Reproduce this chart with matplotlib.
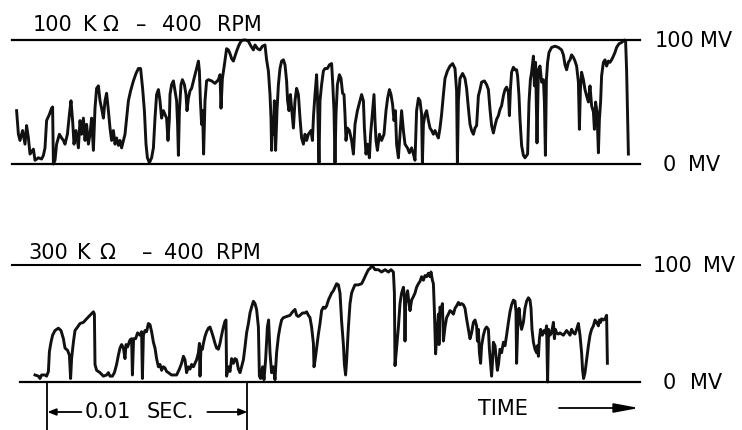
import matplotlib
matplotlib.use("Agg")
import matplotlib.pyplot as plt
from matplotlib import transforms
from matplotlib.patches import FancyArrowPatch

# ---------------- data (time in ms, signal in mV) ----------------
top_time = [
    0.08, 0.17, 0.25, 0.38, 0.5, 0.58, 0.67, 0.75, 0.92, 1.0, 1.17, 1.33, 1.42, 1.5, 1.58,
    1.72, 1.83, 1.88, 1.92, 2.0, 2.08, 2.22, 2.33, 2.42, 2.5, 2.62, 2.72, 2.8, 2.88, 2.95,
    3.05, 3.17, 3.25, 3.33, 3.42, 3.5, 3.58, 3.67, 3.75, 3.83, 3.92, 4.0, 4.08, 4.17, 4.25,
    4.33, 4.42, 4.5, 4.58, 4.67, 4.75, 4.83, 4.92, 5.0, 5.08, 5.17, 5.25, 5.33, 5.5, 5.58,
    5.67, 5.78, 5.92, 6.05, 6.17, 6.28, 6.38, 6.47, 6.55, 6.62, 6.72, 6.83, 6.92, 7.0, 7.08,
    7.17, 7.25, 7.33, 7.42, 7.58, 7.65, 7.72,
    7.75, 7.83, 7.92, 8.0, 8.08, 8.13, 8.17, 8.22, 8.3, 8.37, 8.47, 8.55, 8.6, 8.67, 8.75,
    8.83, 8.92, 9.0, 9.08, 9.17, 9.22, 9.27, 9.33, 9.38, 9.43, 9.5, 9.58, 9.67, 9.83, 10.0,
    10.17, 10.25, 10.3, 10.37, 10.47, 10.58, 10.67, 10.75, 10.83, 10.92, 11.0, 11.08, 11.2, 11.3, 11.42,
    11.53, 11.67, 11.8, 11.92, 12.0, 12.13, 12.25, 12.37, 12.5, 12.58, 12.67, 12.75, 12.8, 12.83, 12.87,
    12.92, 12.97, 13.03, 13.1, 13.17, 13.25, 13.33, 13.42, 13.5, 13.58, 13.63, 13.7, 13.77, 13.83, 13.92,
    14.0, 14.08, 14.17, 14.25, 14.33, 14.42, 14.5, 14.58, 14.67, 14.8, 14.87, 14.93, 15.0, 15.08, 15.13,
    15.2,
    15.25, 15.33, 15.42, 15.5, 15.62, 15.72, 15.83, 15.88, 15.95, 16.0, 16.05, 16.12, 16.22, 16.3, 16.38,
    16.45, 16.5, 16.55, 16.62, 16.72, 16.83, 16.92, 17.0, 17.12, 17.25, 17.33, 17.42, 17.47, 17.55, 17.62,
    17.72, 17.78, 17.88, 17.95, 18.0, 18.05, 18.12, 18.22, 18.33, 18.45, 18.55, 18.63, 18.72, 18.8, 18.88,
    18.95, 19.02, 19.08, 19.17, 19.25, 19.33, 19.42, 19.5, 19.62, 19.72, 19.83, 19.92, 20.0, 20.08, 20.17,
    20.25, 20.33, 20.37, 20.42, 20.5, 20.58, 20.67, 20.75, 20.83, 20.92, 21.0, 21.08, 21.17, 21.25, 21.33,
    21.42, 21.5, 21.62, 21.75, 21.88, 22.0, 22.08, 22.12, 22.17, 22.25, 22.38, 22.5, 22.58, 22.67, 22.75,
    22.83, 22.92, 23.0,
    23.08, 23.17, 23.25, 23.33, 23.47, 23.58, 23.67, 23.75, 23.83, 23.92, 24.0, 24.08, 24.17, 24.25, 24.33,
    24.42, 24.5, 24.58, 24.67, 24.72, 24.77, 24.83, 24.92, 25.0, 25.08, 25.13, 25.2, 25.25, 25.33, 25.42,
    25.5, 25.63, 25.7, 25.77, 25.83, 25.92, 25.97, 26.03, 26.1, 26.17, 26.25, 26.33, 26.42, 26.47, 26.52,
    26.57, 26.63, 26.7, 26.83, 27.0, 27.17, 27.33, 27.42, 27.5, 27.58, 27.67, 27.75, 27.83, 27.92, 28.0,
    28.08, 28.17, 28.22, 28.27, 28.33, 28.42, 28.5, 28.58, 28.67, 28.75, 28.83, 28.92, 28.97, 29.03, 29.1,
    29.17, 29.22, 29.28, 29.33, 29.42, 29.5, 29.58, 29.67, 29.75, 29.83, 29.92, 30.0, 30.08, 30.2, 30.33,
    30.47, 30.53, 30.58, 30.63, 30.67,
]
top_mv = [
    43, 24, 19, 27, 16, 31, 21, 8, 12, 3, 5, 4, 7, 13, 35,
    40, 45, 46, 0, 3, 16, 24, 21, 19, 16, 24, 40, 51, 35, 16,
    27, 13, 35, 24, 37, 19, 32, 16, 24, 37, 11, 45, 61, 63, 51,
    45, 37, 51, 57, 43, 29, 19, 27, 16, 21, 15, 19, 13, 24, 37,
    51, 59, 67, 73, 77, 77, 61, 43, 16, 5, 1, 5, 13, 37, 56,
    60, 51, 37, 43, 37, 19, 37,
    56, 64, 67, 59, 51, 32, 7, 43, 64, 68, 64, 56, 43, 53, 59,
    61, 67, 72, 77, 83, 75, 51, 32, 43, 8, 51, 67, 68, 67, 65,
    68, 72, 45, 69, 80, 93, 92, 89, 85, 83, 87, 91, 96, 99, 100,
    100, 99, 95, 92, 96, 93, 92, 95, 96, 84, 75, 56, 37, 11, 37,
    24, 51, 11, 43, 64, 77, 83, 84, 80, 67, 51, 43, 56, 45, 29,
    51, 61, 56, 37, 21, 16, 24, 19, 24, 27, 19, 40, 56, 72, 51,
    1,
    51, 64, 75, 77, 77, 80, 81, 67, 43, 1, 40, 64, 72, 69, 57,
    56, 40, 19, 29, 27, 19, 8, 32, 43, 51, 56, 51, 29, 8, 16,
    5, 24, 43, 56, 35, 19, 11, 24, 19, 24, 43, 53, 60, 56, 48,
    35, 43, 16, 5, 24, 43, 27, 16, 13, 9, 13, 8, 3, 43, 53,
    51, 40, 1, 32, 40, 43, 35, 29, 27, 24, 27, 24, 21, 29, 40,
    56, 69, 75, 79, 81, 77, 59, 1, 51, 69, 73, 69, 61, 45, 32,
    27, 24, 29,
    31, 55, 60, 66, 67, 64, 60, 44, 31, 25, 31, 36, 39, 44, 47,
    55, 60, 62, 58, 39, 60, 74, 78, 76, 76, 71, 55, 36, 15, 7,
    5, 8, 50, 68, 74, 87, 63, 82, 17, 76, 79, 66, 68, 50, 7,
    68, 82, 90, 94, 95, 94, 92, 88, 80, 76, 82, 84, 88, 86, 83,
    79, 66, 28, 60, 74, 68, 60, 55, 50, 63, 47, 42, 28, 50, 42,
    9, 36, 50, 71, 82, 84, 79, 83, 82, 84, 87, 90, 94, 97, 98,
    100, 99, 76, 36, 8,
]

bottom_time = [
    1.0, 1.17, 1.25, 1.33, 1.5, 1.58, 1.67, 1.72, 1.8, 1.88, 2.0, 2.17, 2.3, 2.42, 2.5,
    2.63, 2.72, 2.78, 2.83, 2.92, 3.0, 3.13, 3.25, 3.42, 3.58, 3.75, 3.92, 3.97, 4.0, 4.08,
    4.25, 4.42, 4.58, 4.67, 4.75, 4.87, 4.97, 5.08, 5.17, 5.25, 5.33, 5.42, 5.5, 5.55, 5.63,
    5.75, 5.83, 5.87, 5.93, 6.03, 6.13, 6.25, 6.33, 6.37, 6.42, 6.5, 6.58, 6.67, 6.75, 6.83,
    6.92, 7.0, 7.08, 7.17, 7.25, 7.33, 7.42, 7.5, 7.58, 7.67, 7.83,
    8.08, 8.22, 8.33, 8.42, 8.5, 8.58, 8.67, 8.75, 8.83, 8.92, 9.0, 9.08, 9.17, 9.22, 9.25,
    9.3, 9.37, 9.42, 9.5, 9.58, 9.67, 9.75, 9.83, 9.92, 10.0, 10.08, 10.17, 10.25, 10.33, 10.42,
    10.5, 10.55, 10.58, 10.67, 10.75, 10.83, 10.92, 11.0, 11.08, 11.17, 11.25, 11.33, 11.42, 11.5, 11.58,
    11.67, 11.75, 11.83, 11.92, 12.0, 12.08, 12.17, 12.22, 12.28, 12.38, 12.45, 12.53, 12.62, 12.68, 12.75,
    12.83, 12.92, 13.0, 13.08, 13.17, 13.25, 13.33, 13.42, 13.58, 13.75, 13.88, 14.0, 14.08, 14.17, 14.25,
    14.38, 14.5, 14.58, 14.67, 14.75, 14.83, 14.92, 14.95,
    15.0, 15.08, 15.17, 15.25, 15.33, 15.42, 15.5, 15.58, 15.67, 15.75, 15.83, 15.92, 16.0, 16.08, 16.17,
    16.25, 16.33, 16.42, 16.47, 16.53, 16.58, 16.67, 16.75, 16.83, 16.92, 17.0, 17.17, 17.33, 17.42, 17.5,
    17.58, 17.67, 17.75, 17.83, 17.92, 18.0, 18.17, 18.33, 18.5, 18.67, 18.8, 18.92, 18.97, 19.0, 19.08,
    19.17, 19.25, 19.33, 19.42, 19.47, 19.5, 19.53, 19.63, 19.7, 19.75, 19.83, 19.92, 20.0, 20.08, 20.17,
    20.25, 20.33, 20.42, 20.5, 20.58, 20.67, 20.75, 20.8, 20.87, 20.92, 20.97, 21.03, 21.08, 21.17, 21.2,
    21.25, 21.3, 21.37, 21.42, 21.5, 21.58, 21.67, 21.75, 21.83, 21.92, 22.0, 22.08, 22.17,
    22.25, 22.33, 22.42, 22.5, 22.58, 22.67, 22.75, 22.83, 22.92, 23.0, 23.08, 23.12, 23.17, 23.22, 23.28,
    23.33, 23.42, 23.5, 23.58, 23.67, 23.72, 23.78, 23.83, 23.88, 23.92, 24.0, 24.05, 24.12, 24.18, 24.25,
    24.33, 24.42, 24.5, 24.58, 24.67, 24.75, 24.83, 24.92, 25.0, 25.05, 25.08, 25.13, 25.2, 25.25, 25.33,
    25.42, 25.5, 25.58, 25.67, 25.75, 25.8, 25.85, 25.92, 26.0, 26.08, 26.12, 26.17, 26.22, 26.28, 26.37,
    26.45, 26.52, 26.58, 26.63, 26.68, 26.75, 26.83, 26.92, 26.97, 27.02, 27.08, 27.17, 27.25, 27.33, 27.42,
    27.5, 27.58, 27.67, 27.75, 27.83, 27.92, 28.0, 28.08, 28.17, 28.25, 28.33, 28.38, 28.43, 28.5, 28.58,
    28.67, 28.75, 28.83, 28.92, 29.0, 29.08, 29.17, 29.22, 29.28, 29.33, 29.42, 29.5, 29.58, 29.62,
]
bottom_mv = [
    6, 5, 3, 6, 6, 5, 9, 26, 34, 40, 44, 46, 44, 37, 29,
    27, 23, 3, 20, 34, 44, 47, 50, 51, 54, 57, 60, 58, 15, 10,
    8, 5, 6, 8, 5, 5, 8, 15, 23, 29, 32, 29, 20, 32, 30,
    36, 37, 6, 37, 37, 42, 40, 43, 3, 40, 44, 43, 50, 49, 43,
    34, 29, 20, 13, 15, 10, 13, 12, 9, 8, 6,
    6, 11, 16, 22, 19, 8, 13, 11, 15, 13, 16, 19, 25, 33, 5,
    30, 28, 33, 39, 43, 46, 47, 43, 38, 33, 29, 28, 33, 40, 47,
    52, 53, 5, 13, 9, 20, 16, 20, 19, 11, 8, 13, 19, 30, 42,
    50, 59, 64, 69, 67, 62, 47, 5, 3, 13, 2, 19, 47, 53, 25,
    8, 13, 2, 25, 39, 47, 53, 55, 56, 57, 60, 62, 57, 56, 57,
    59, 59, 60, 57, 55, 47, 33, 13,
    18, 29, 41, 50, 61, 64, 63, 65, 70, 73, 76, 78, 81, 84, 83,
    76, 52, 32, 15, 6, 18, 47, 67, 76, 80, 83, 83, 84, 87, 90,
    93, 96, 97, 99, 98, 96, 96, 94, 96, 94, 96, 94, 76, 14, 29,
    47, 67, 76, 81, 73, 35, 67, 78, 67, 61, 70, 73, 76, 81, 84,
    86, 90, 87, 91, 90, 93, 90, 94, 87, 84, 61, 24, 38, 58, 32,
    64, 61, 67, 35, 47, 55, 58, 61, 60, 58, 63, 65, 68,
    66, 67, 66, 63, 54, 45, 37, 42, 51, 53, 48, 35, 45, 25, 16,
    31, 40, 45, 47, 45, 28, 16, 5, 19, 34, 31, 22, 10, 16, 28,
    25, 34, 31, 40, 51, 60, 66, 70, 69, 60, 16, 45, 63, 54, 45,
    51, 63, 69, 72, 70, 63, 45, 34, 28, 25, 31, 22, 37, 45, 40,
    44, 42, 48, 0, 45, 40, 42, 51, 37, 45, 42, 41, 42, 41, 40,
    42, 44, 42, 40, 45, 42, 41, 45, 50, 40, 25, 10, 3, 8, 19,
    31, 40, 45, 48, 53, 51, 48, 53, 51, 54, 53, 54, 57, 16,
]

# label words: (text, left edge px, centre y px)
top_title = [("100", 33, 25), ("K", 83, 25), ("Ω", 102, 25), ("–", 136, 25),
             ("400", 162, 25), ("RPM", 217, 25)]
bottom_title = [("300", 28, 253), ("K", 77, 253), ("Ω", 99, 253), ("–", 142, 253),
                ("400", 164, 253), ("RPM", 216, 253)]
level_words = [("100", 655, 41), ("MV", 700, 41), ("0", 663, 165), ("MV", 688, 165),
               ("100", 653, 266), ("MV", 703, 266), ("0", 663, 383), ("MV", 690, 383)]
scale_words = [("0.01", 85, 412), ("SEC.", 147, 412)]
time_label = ("TIME", 478, 409)
scale_ms = 10.0
scale_start_ms = 1.62

# ---------------- layout ----------------
W, H = 742, 430
fig = plt.figure(figsize=(W / 100, H / 100), dpi=100)
fig.patch.set_facecolor("white")


def fx(px):
    return px / W


def fy(py):
    return 1 - py / H


T0, T1 = -0.15, 31.25
ink = "#111111"

ax_top = fig.add_axes([fx(12), fy(164), (640 - 12) / W, (164 - 40) / H])
ax_bot = fig.add_axes([fx(12), fy(382), (640 - 12) / W, (382 - 265) / H])
for ax in (ax_top, ax_bot):
    ax.set_xlim(T0, T1)
    ax.set_ylim(0, 100)
    ax.axis("off")

ax_top.plot(top_time, top_mv, color=ink, lw=2.1, clip_on=False)
ax_bot.plot(bottom_time, bottom_mv, color=ink, lw=2.1, clip_on=False)

ax_top.axhline(100, color="black", lw=1.6, clip_on=False)
ax_top.axhline(0, color="black", lw=1.6, clip_on=False)
ax_bot.axhline(100, color="black", lw=1.5, clip_on=False)
ax_bot.axhline(0, color="black", lw=1.6, xmin=0.013, clip_on=False)

font = dict(family="DejaVu Sans", color="black", fontsize=15)
for words in (top_title, bottom_title, level_words, scale_words, [time_label]):
    for txt, x, y in words:
        fig.text(fx(x), fy(y), txt, va="center", ha="left", **font)

# scale bracket (x in time units, y in figure fraction)
blend = transforms.blended_transform_factory(ax_bot.transData, fig.transFigure)
b0, b1 = scale_start_ms, scale_start_ms + scale_ms
for b in (b0, b1):
    ax_bot.plot([b, b], [fy(382), fy(432)], transform=blend, color="black",
                lw=1.3, clip_on=False)
ymid = fy(412)
head = "-|>,head_length=0.5,head_width=0.2"
ax_bot.annotate("", xy=(b0, ymid), xytext=(b0 + 1.7, ymid),
                xycoords=blend, textcoords=blend,
                arrowprops=dict(arrowstyle=head, color="black", lw=1.3,
                                shrinkA=0, shrinkB=0))
ax_bot.annotate("", xy=(b1, ymid), xytext=(b1 - 2.0, ymid),
                xycoords=blend, textcoords=blend,
                arrowprops=dict(arrowstyle=head, color="black", lw=1.3,
                                shrinkA=0, shrinkB=0))

fig.add_artist(FancyArrowPatch(
    (fx(559), fy(408)), (fx(639), fy(408)), transform=fig.transFigure,
    arrowstyle="-|>,head_length=1.5,head_width=0.28", mutation_scale=10,
    color="black", lw=1.3, shrinkA=0, shrinkB=0))

fig.savefig("out.png", dpi=100, facecolor="white")
